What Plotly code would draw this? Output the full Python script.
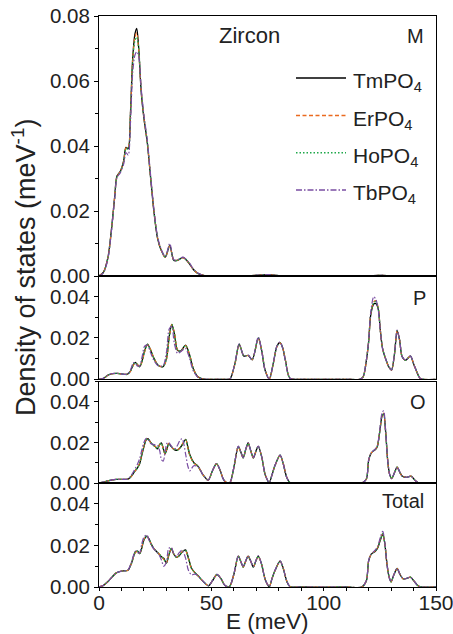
import plotly.graph_objects as go
from plotly.subplots import make_subplots

# ---------------- data ----------------
series_names = ["TmPO<sub>4</sub>", "ErPO<sub>4</sub>", "HoPO<sub>4</sub>", "TbPO<sub>4</sub>"]
panel_labels = ["M", "P", "O", "Total"]

# M panel
E_M = [0, 2, 4, 5.5, 7, 8, 9.5, 11, 12, 13, 14, 15, 16, 16.8, 17.6, 18.8, 20, 21.5, 23, 24.5,
       26, 27.5, 29.5, 31.5, 33.3, 35, 37.4, 40, 42, 44, 47, 55, 65, 72, 76, 80, 90, 110, 122, 126, 130, 150]
M_Tm = [0, 0.0012, 0.0058, 0.0140, 0.0245, 0.0308, 0.0322, 0.0355, 0.0396, 0.0392, 0.0500, 0.0670, 0.0745,
        0.0762, 0.0708, 0.0565, 0.0485, 0.0410, 0.0300, 0.0195, 0.0118, 0.0082, 0.0058, 0.0094, 0.0048,
        0.0048, 0.0057, 0.0040, 0.0020, 0.0008, 0.0001, 0, 0, 0.0003, 0.0004, 0.0001, 0, 0, 0.0001, 0.0002, 0, 0]
M_Er = [0, 0.0012, 0.0057, 0.0139, 0.0244, 0.0306, 0.0322, 0.0354, 0.0394, 0.0395, 0.0498, 0.0665, 0.0735,
        0.0748, 0.0702, 0.0568, 0.0487, 0.0412, 0.0302, 0.0197, 0.0120, 0.0083, 0.0057, 0.0092, 0.0049,
        0.0049, 0.0056, 0.0040, 0.0020, 0.0008, 0.0001, 0, 0, 0.0003, 0.0004, 0.0001, 0, 0, 0.0001, 0.0002, 0, 0]
M_Ho = [0, 0.0011, 0.0056, 0.0138, 0.0243, 0.0305, 0.0321, 0.0352, 0.0392, 0.0390, 0.0495, 0.0660, 0.0725,
        0.0735, 0.0705, 0.0570, 0.0488, 0.0413, 0.0303, 0.0198, 0.0121, 0.0084, 0.0058, 0.0093, 0.0049,
        0.0048, 0.0056, 0.0041, 0.0021, 0.0008, 0.0001, 0, 0, 0.0003, 0.0004, 0.0001, 0, 0, 0.0001, 0.0002, 0, 0]
M_Tb = [0, 0.0010, 0.0054, 0.0136, 0.0240, 0.0302, 0.0318, 0.0345, 0.0380, 0.0372, 0.0470, 0.0625, 0.0680,
        0.0690, 0.0680, 0.0575, 0.0495, 0.0418, 0.0308, 0.0202, 0.0124, 0.0086, 0.0060, 0.0100, 0.0050,
        0.0050, 0.0058, 0.0042, 0.0022, 0.0009, 0.0001, 0, 0, 0.0003, 0.0004, 0.0001, 0, 0, 0.0001, 0.0002, 0, 0]

# P panel
E_P = [0, 2, 4, 6, 8, 10, 12.5, 14, 15.3, 16.2, 17, 18.1, 19.2, 20.3, 21.6, 23, 24.5, 26.3, 28.5, 30,
       31.3, 32.4, 33.5, 35, 36.5, 38.5, 40.2, 42, 44, 46, 48, 52, 56, 58.3, 60.5, 62.4, 64.5, 66.4, 68.2,
       70.9, 72.4, 73.9, 75.8, 77.6, 79.2, 80.6, 81.8, 83, 85, 90, 110, 116, 117.5, 119, 120, 121, 122.3,
       123.3, 124.3, 125.2, 126.2, 127.8, 129, 130.2, 131.5, 132.7, 133.8, 134.9, 136.4, 138.6, 140.2,
       141.5, 143, 150]
P_Tm = [0, 0.0005, 0.0020, 0.0027, 0.0029, 0.0026, 0.0024, 0.0040, 0.0072, 0.0082, 0.0072, 0.0061, 0.0090,
        0.0138, 0.0170, 0.0140, 0.0100, 0.0068, 0.0061, 0.0100, 0.0210, 0.0266, 0.0225, 0.0140, 0.0138,
        0.0165, 0.0122, 0.0050, 0.0012, 0.0002, 0, 0, 0, 0.0002, 0.0076, 0.0170, 0.0112, 0.0116, 0.0094,
        0.0200, 0.0140, 0.0045, 0.0002, 0.0078, 0.0160, 0.0178, 0.0150, 0.0090, 0.0005, 0, 0, 0, 0.0010,
        0.0090, 0.0180, 0.0315, 0.0365, 0.0366, 0.0340, 0.0240, 0.0150, 0.0092, 0.0060, 0.0045, 0.0120,
        0.0235, 0.0190, 0.0110, 0.0092, 0.0112, 0.0070, 0.0035, 0.0004, 0]
P_Er = [0, 0.0005, 0.0020, 0.0027, 0.0029, 0.0026, 0.0024, 0.0038, 0.0068, 0.0080, 0.0073, 0.0060, 0.0085,
        0.0132, 0.0168, 0.0143, 0.0102, 0.0069, 0.0061, 0.0095, 0.0205, 0.0265, 0.0228, 0.0142, 0.0137,
        0.0163, 0.0124, 0.0052, 0.0013, 0.0002, 0, 0, 0, 0.0002, 0.0074, 0.0168, 0.0113, 0.0115, 0.0095,
        0.0198, 0.0142, 0.0046, 0.0002, 0.0076, 0.0158, 0.0178, 0.0152, 0.0092, 0.0005, 0, 0, 0, 0.0010,
        0.0090, 0.0182, 0.0320, 0.0375, 0.0380, 0.0345, 0.0240, 0.0150, 0.0092, 0.0060, 0.0045, 0.0121,
        0.0236, 0.0190, 0.0110, 0.0092, 0.0112, 0.0070, 0.0035, 0.0004, 0]
P_Ho = [0, 0.0005, 0.0020, 0.0027, 0.0029, 0.0026, 0.0024, 0.0039, 0.0070, 0.0081, 0.0072, 0.0060, 0.0087,
        0.0135, 0.0169, 0.0142, 0.0101, 0.0068, 0.0061, 0.0097, 0.0207, 0.0266, 0.0226, 0.0141, 0.0137,
        0.0164, 0.0123, 0.0051, 0.0012, 0.0002, 0, 0, 0, 0.0002, 0.0075, 0.0169, 0.0112, 0.0116, 0.0094,
        0.0199, 0.0141, 0.0045, 0.0002, 0.0077, 0.0159, 0.0178, 0.0151, 0.0091, 0.0005, 0, 0, 0, 0.0010,
        0.0090, 0.0181, 0.0318, 0.0372, 0.0376, 0.0343, 0.0240, 0.0150, 0.0092, 0.0060, 0.0045, 0.0120,
        0.0236, 0.0190, 0.0110, 0.0092, 0.0112, 0.0070, 0.0035, 0.0004, 0]
P_Tb = [0, 0.0005, 0.0021, 0.0028, 0.0029, 0.0026, 0.0025, 0.0045, 0.0080, 0.0078, 0.0065, 0.0065, 0.0110,
        0.0160, 0.0165, 0.0128, 0.0090, 0.0066, 0.0066, 0.0130, 0.0245, 0.0255, 0.0175, 0.0125, 0.0135,
        0.0150, 0.0105, 0.0040, 0.0010, 0.0002, 0, 0, 0, 0.0002, 0.0078, 0.0172, 0.0112, 0.0117, 0.0095,
        0.0205, 0.0138, 0.0044, 0.0002, 0.0080, 0.0162, 0.0180, 0.0150, 0.0088, 0.0005, 0, 0, 0, 0.0010,
        0.0092, 0.0185, 0.0330, 0.0400, 0.0385, 0.0335, 0.0238, 0.0150, 0.0093, 0.0061, 0.0046, 0.0122,
        0.0238, 0.0192, 0.0111, 0.0093, 0.0113, 0.0070, 0.0035, 0.0004, 0]

# O panel
E_O = [0, 2, 4, 7.7, 10, 12.9, 14.5, 15.8, 17, 18.1, 19, 20, 21, 21.8, 23, 24, 25, 26, 27, 27.8, 28.6,
       29.4, 30.2, 31, 32, 32.9, 34, 34.9, 36, 37, 38.6, 39.5, 40.4, 42.2, 44.1, 46.3, 48.6, 50.5, 52.3,
       54, 55.5, 57, 58.3, 60, 62, 63.2, 64.2, 65.3, 66.4, 67.5, 68.7, 69.8, 70.9, 72.4, 74, 75.8, 77,
       78.3, 80.6, 82, 83.5, 85, 90, 110, 117, 119, 120, 121, 122, 123, 123.9, 125, 126, 126.7, 127.6,
       128.5, 129.3, 130.2, 131.5, 132.7, 133.8, 134.9, 137, 138.9, 140.5, 142, 150]
O_Tm = [0, 0.0004, 0.0011, 0.0018, 0.0018, 0.0019, 0.0035, 0.0056, 0.0072, 0.0095, 0.0135, 0.0178, 0.0212,
        0.0218, 0.0200, 0.0188, 0.0180, 0.0168, 0.0190, 0.0198, 0.0170, 0.0145, 0.0165, 0.0194, 0.0182,
        0.0170, 0.0162, 0.0162, 0.0172, 0.0187, 0.0215, 0.0180, 0.0140, 0.0100, 0.0082, 0.0040, 0.0014,
        0.0060, 0.0095, 0.0060, 0.0015, 0.0001, 0.0002, 0.0075, 0.0180, 0.0150, 0.0124, 0.0165, 0.0197,
        0.0160, 0.0124, 0.0155, 0.0180, 0.0130, 0.0040, 0.0002, 0.0040, 0.0085, 0.0137, 0.0095, 0.0030,
        0.0002, 0, 0, 0, 0.0020, 0.0110, 0.0145, 0.0157, 0.0165, 0.0180, 0.0255, 0.0330, 0.0340, 0.0250,
        0.0110, 0.0045, 0.0022, 0.0050, 0.0078, 0.0055, 0.0035, 0.0028, 0.0034, 0.0015, 0.0002, 0]
O_Er = [0, 0.0004, 0.0011, 0.0018, 0.0018, 0.0019, 0.0034, 0.0055, 0.0074, 0.0098, 0.0140, 0.0182, 0.0214,
        0.0218, 0.0199, 0.0187, 0.0180, 0.0170, 0.0188, 0.0195, 0.0168, 0.0143, 0.0168, 0.0195, 0.0182,
        0.0170, 0.0163, 0.0163, 0.0174, 0.0190, 0.0213, 0.0176, 0.0136, 0.0098, 0.0082, 0.0040, 0.0014,
        0.0060, 0.0094, 0.0060, 0.0015, 0.0001, 0.0002, 0.0074, 0.0178, 0.0149, 0.0123, 0.0163, 0.0195,
        0.0160, 0.0123, 0.0154, 0.0179, 0.0131, 0.0041, 0.0002, 0.0040, 0.0084, 0.0136, 0.0096, 0.0031,
        0.0002, 0, 0, 0, 0.0020, 0.0110, 0.0145, 0.0157, 0.0166, 0.0182, 0.0258, 0.0334, 0.0345, 0.0252,
        0.0110, 0.0045, 0.0022, 0.0050, 0.0078, 0.0055, 0.0035, 0.0028, 0.0034, 0.0015, 0.0002, 0]
O_Ho = [0, 0.0004, 0.0011, 0.0018, 0.0018, 0.0019, 0.0035, 0.0056, 0.0073, 0.0097, 0.0138, 0.0180, 0.0213,
        0.0218, 0.0200, 0.0188, 0.0180, 0.0169, 0.0189, 0.0196, 0.0169, 0.0144, 0.0166, 0.0194, 0.0182,
        0.0170, 0.0163, 0.0162, 0.0173, 0.0188, 0.0214, 0.0178, 0.0138, 0.0099, 0.0082, 0.0040, 0.0014,
        0.0060, 0.0095, 0.0060, 0.0015, 0.0001, 0.0002, 0.0075, 0.0179, 0.0150, 0.0124, 0.0164, 0.0196,
        0.0160, 0.0124, 0.0155, 0.0180, 0.0130, 0.0040, 0.0002, 0.0040, 0.0085, 0.0137, 0.0095, 0.0030,
        0.0002, 0, 0, 0, 0.0020, 0.0110, 0.0145, 0.0157, 0.0165, 0.0181, 0.0257, 0.0332, 0.0343, 0.0251,
        0.0110, 0.0045, 0.0022, 0.0050, 0.0078, 0.0055, 0.0035, 0.0028, 0.0034, 0.0015, 0.0002, 0]
O_Tb = [0, 0.0004, 0.0011, 0.0018, 0.0018, 0.0020, 0.0040, 0.0065, 0.0090, 0.0120, 0.0160, 0.0200, 0.0220,
        0.0215, 0.0195, 0.0190, 0.0188, 0.0185, 0.0160, 0.0115, 0.0108, 0.0150, 0.0195, 0.0200, 0.0185,
        0.0172, 0.0170, 0.0185, 0.0210, 0.0218, 0.0140, 0.0085, 0.0060, 0.0085, 0.0080, 0.0040, 0.0014,
        0.0060, 0.0096, 0.0061, 0.0015, 0.0001, 0.0002, 0.0076, 0.0182, 0.0151, 0.0125, 0.0166, 0.0198,
        0.0161, 0.0125, 0.0156, 0.0182, 0.0130, 0.0040, 0.0002, 0.0040, 0.0086, 0.0138, 0.0095, 0.0030,
        0.0002, 0, 0, 0, 0.0020, 0.0112, 0.0146, 0.0158, 0.0168, 0.0185, 0.0265, 0.0345, 0.0355, 0.0255,
        0.0110, 0.0045, 0.0022, 0.0051, 0.0079, 0.0056, 0.0035, 0.0028, 0.0034, 0.0015, 0.0002, 0]

# Total panel
E_T = [0, 2, 4, 6, 7.7, 10, 12.9, 14.4, 16.2, 17.2, 18.1, 19, 20, 21.3, 22.3, 23.3, 24.4, 25.5, 26.7, 27.8,
       28.8, 30, 31, 32.2, 33.3, 34.5, 35.7, 37, 38.5, 39.8, 41.2, 42.6, 44, 46.5, 48.8, 50.5, 52.5, 54.3,
       56, 58, 60, 62, 63.2, 64.2, 65.3, 66.4, 67.5, 68.7, 69.8, 70.9, 72.4, 74, 75.8, 77, 78.3, 80.6, 82,
       83.5, 85, 90, 110, 117, 119, 120, 121, 122, 123, 124.1, 125.2, 126.3, 127.2, 128.2, 129.2, 130,
       131.3, 132.7, 134, 135.4, 137, 138.6, 140, 141.5, 143, 150]
T_Tm = [0, 0.0008, 0.0026, 0.0050, 0.0068, 0.0076, 0.0081, 0.0113, 0.0170, 0.0172, 0.0160, 0.0185, 0.0226,
        0.0245, 0.0230, 0.0205, 0.0185, 0.0172, 0.0158, 0.0145, 0.0138, 0.0115, 0.0150, 0.0185, 0.0158,
        0.0142, 0.0150, 0.0168, 0.0178, 0.0140, 0.0090, 0.0070, 0.0055, 0.0025, 0.0006, 0.0030, 0.0060,
        0.0040, 0.0008, 0.0001, 0.0060, 0.0148, 0.0120, 0.0096, 0.0125, 0.0148, 0.0125, 0.0096, 0.0125,
        0.0148, 0.0108, 0.0035, 0.0002, 0.0040, 0.0078, 0.0124, 0.0090, 0.0030, 0.0002, 0, 0, 0, 0.0030,
        0.0124, 0.0155, 0.0165, 0.0172, 0.0189, 0.0225, 0.0253, 0.0210, 0.0108, 0.0045, 0.0025, 0.0060,
        0.0089, 0.0060, 0.0039, 0.0042, 0.0047, 0.0032, 0.0011, 0.0001, 0]
T_Er = [0, 0.0008, 0.0026, 0.0050, 0.0068, 0.0076, 0.0081, 0.0112, 0.0166, 0.0170, 0.0162, 0.0190, 0.0230,
        0.0244, 0.0228, 0.0205, 0.0186, 0.0173, 0.0160, 0.0146, 0.0133, 0.0115, 0.0152, 0.0184, 0.0158,
        0.0143, 0.0152, 0.0170, 0.0176, 0.0136, 0.0088, 0.0070, 0.0055, 0.0025, 0.0006, 0.0030, 0.0060,
        0.0040, 0.0008, 0.0001, 0.0059, 0.0147, 0.0120, 0.0095, 0.0124, 0.0147, 0.0125, 0.0096, 0.0124,
        0.0147, 0.0109, 0.0036, 0.0002, 0.0040, 0.0077, 0.0123, 0.0091, 0.0031, 0.0002, 0, 0, 0, 0.0030,
        0.0124, 0.0155, 0.0166, 0.0174, 0.0192, 0.0230, 0.0258, 0.0212, 0.0108, 0.0045, 0.0025, 0.0060,
        0.0089, 0.0060, 0.0039, 0.0042, 0.0047, 0.0032, 0.0011, 0.0001, 0]
T_Ho = [0, 0.0008, 0.0026, 0.0050, 0.0068, 0.0076, 0.0081, 0.0112, 0.0168, 0.0171, 0.0161, 0.0188, 0.0228,
        0.0244, 0.0229, 0.0205, 0.0186, 0.0172, 0.0159, 0.0146, 0.0135, 0.0115, 0.0151, 0.0185, 0.0158,
        0.0142, 0.0151, 0.0169, 0.0177, 0.0138, 0.0089, 0.0070, 0.0055, 0.0025, 0.0006, 0.0030, 0.0060,
        0.0040, 0.0008, 0.0001, 0.0060, 0.0148, 0.0120, 0.0096, 0.0125, 0.0148, 0.0125, 0.0096, 0.0125,
        0.0148, 0.0108, 0.0035, 0.0002, 0.0040, 0.0078, 0.0124, 0.0090, 0.0030, 0.0002, 0, 0, 0, 0.0030,
        0.0124, 0.0155, 0.0165, 0.0173, 0.0190, 0.0228, 0.0256, 0.0211, 0.0108, 0.0045, 0.0025, 0.0060,
        0.0089, 0.0060, 0.0039, 0.0042, 0.0047, 0.0032, 0.0011, 0.0001, 0]
T_Tb = [0, 0.0008, 0.0026, 0.0050, 0.0068, 0.0076, 0.0082, 0.0118, 0.0172, 0.0165, 0.0165, 0.0205, 0.0240,
        0.0250, 0.0225, 0.0200, 0.0183, 0.0170, 0.0155, 0.0130, 0.0100, 0.0120, 0.0185, 0.0190, 0.0160,
        0.0148, 0.0165, 0.0178, 0.0140, 0.0080, 0.0058, 0.0062, 0.0055, 0.0025, 0.0006, 0.0031, 0.0061,
        0.0040, 0.0008, 0.0001, 0.0061, 0.0150, 0.0121, 0.0097, 0.0126, 0.0150, 0.0126, 0.0097, 0.0126,
        0.0150, 0.0108, 0.0035, 0.0002, 0.0041, 0.0079, 0.0126, 0.0090, 0.0030, 0.0002, 0, 0, 0, 0.0031,
        0.0126, 0.0157, 0.0168, 0.0178, 0.0196, 0.0238, 0.0268, 0.0215, 0.0108, 0.0045, 0.0025, 0.0061,
        0.0090, 0.0061, 0.0039, 0.0042, 0.0047, 0.0032, 0.0011, 0.0001, 0]

panels = [
    (E_M, [M_Tm, M_Er, M_Ho, M_Tb]),
    (E_P, [P_Tm, P_Er, P_Ho, P_Tb]),
    (E_O, [O_Tm, O_Er, O_Ho, O_Tb]),
    (E_T, [T_Tm, T_Er, T_Ho, T_Tb]),
]

# ---------------- styling ----------------
FONT = "Liberation Sans, Arial, Helvetica, sans-serif"
TXT = "#222222"
colors = ["#000000", "#ea6a1f", "#1fa84a", "#7a4ea3"]
dashes = ["solid", "4px,2.5px", "1.5px,2px", "6px,2px,1.5px,2px"]
widths = [1.3, 1.2, 1.3, 1.2]

W, H = 453, 634
ML, MR, MT, MB = 99, 17, 16, 47
PW, PH = W - ML - MR, H - MT - MB


def px_x(px):
    return (px - ML) / PW


def px_y(py):
    return (H - MB - py) / PH


fig = make_subplots(rows=4, cols=1, shared_xaxes=True)

for r, (E, ser) in enumerate(panels, start=1):
    for i in range(4):
        fig.add_trace(go.Scatter(
            x=E, y=ser[i], mode="lines", name=series_names[i],
            line=dict(color=colors[i], dash=dashes[i], width=widths[i], shape="spline", smoothing=0.8),
            showlegend=False,
        ), row=r, col=1)

domains = [[px_y(276), 1.0], [px_y(379.3), px_y(276)], [px_y(483), px_y(381.5)], [0.0, px_y(483)]]
yranges = [[0, 0.08], [0, 0.05], [0, 0.05], [0, 0.05]]
for r in range(1, 5):
    yk = "yaxis" if r == 1 else "yaxis%d" % r
    xk = "xaxis" if r == 1 else "xaxis%d" % r
    fig.layout[yk].update(
        domain=domains[r - 1], range=yranges[r - 1], automargin=False,
        tickmode="array",
        tickvals=[0, 0.02, 0.04, 0.06, 0.08] if r == 1 else [0, 0.02, 0.04],
        ticktext=(["0.00", "0.02", "0.04", "0.06", "0.08"] if r == 1 else ["0.00", "0.02", "0.04"]),
        ticks="outside", ticklen=4, tickwidth=1, tickcolor="black",
        minor=dict(dtick=0.01, tick0=0, ticks="outside", ticklen=2.5, tickcolor="black", tickwidth=1),
        showline=True, linecolor="black", linewidth=1.2, mirror=True,
        showgrid=False, zeroline=False,
        tickfont=dict(family=FONT, size=20.5, color=TXT),
        ticklabeloverflow="allow",
    )
    fig.layout[xk].update(
        range=[0, 150], showline=True, linecolor="black", linewidth=1.2, mirror=True,
        showgrid=False, zeroline=False, automargin=False,
    )
    if r < 4:
        fig.layout[xk].update(showticklabels=False, ticks="")
    else:
        fig.layout[xk].update(
            tickvals=[0, 50, 100, 150], ticktext=["0", "50", "100", "150"],
            ticks="outside", ticklen=3, tickwidth=1, tickcolor="black",
            minor=dict(dtick=10, tick0=0, ticks="outside", ticklen=3, tickcolor="black", tickwidth=1),
            tickfont=dict(family=FONT, size=21, color=TXT), showticklabels=True,
            ticklabelstandoff=-6, ticklabeloverflow="allow",
        )

ann_font = dict(family=FONT, size=20, color=TXT)
annotations = [
    dict(text="Zircon", x=px_x(217), y=px_y(35), xanchor="left", yanchor="middle",
         font=dict(family=FONT, size=22, color=TXT)),
    dict(text=panel_labels[0], x=px_x(426), y=px_y(36), xanchor="right", yanchor="middle", font=ann_font),
    dict(text=panel_labels[1], x=px_x(428), y=px_y(298), xanchor="right", yanchor="middle", font=ann_font),
    dict(text=panel_labels[2], x=px_x(428), y=px_y(402), xanchor="right", yanchor="middle", font=ann_font),
    dict(text=panel_labels[3], x=px_x(426), y=px_y(501), xanchor="right", yanchor="middle", font=ann_font),
    dict(text="Density of states (meV<sup>-1</sup>)", x=px_x(24), y=px_y(268), xanchor="center", yanchor="middle",
         textangle=-90, font=dict(family=FONT, size=27, color=TXT)),
    dict(text="E (meV)", x=px_x(267), y=px_y(621), xanchor="center", yanchor="middle",
         font=dict(family=FONT, size=22.5, color=TXT)),
]

# legend drawn as key lines + labels
legend_y = [78, 115.5, 152.7, 190]
shapes = []
for i in range(4):
    shapes.append(dict(type="line", xref="paper", yref="paper",
                       x0=px_x(296), x1=px_x(346), y0=px_y(legend_y[i]), y1=px_y(legend_y[i]),
                       line=dict(color=colors[i], dash=dashes[i], width=widths[i] + 0.1)))
    annotations.append(dict(text=series_names[i], x=px_x(351), y=px_y(legend_y[i] + 4),
                            xanchor="left", yanchor="middle", font=dict(family=FONT, size=21, color=TXT)))

for a in annotations:
    a.update(xref="paper", yref="paper", showarrow=False)

fig.update_layout(
    width=W, height=H,
    margin=dict(l=ML, r=MR, t=MT, b=MB),
    paper_bgcolor="white", plot_bgcolor="white",
    annotations=annotations, shapes=shapes,
    showlegend=False,
    font=dict(family=FONT),
)

fig.write_html("out.html")
